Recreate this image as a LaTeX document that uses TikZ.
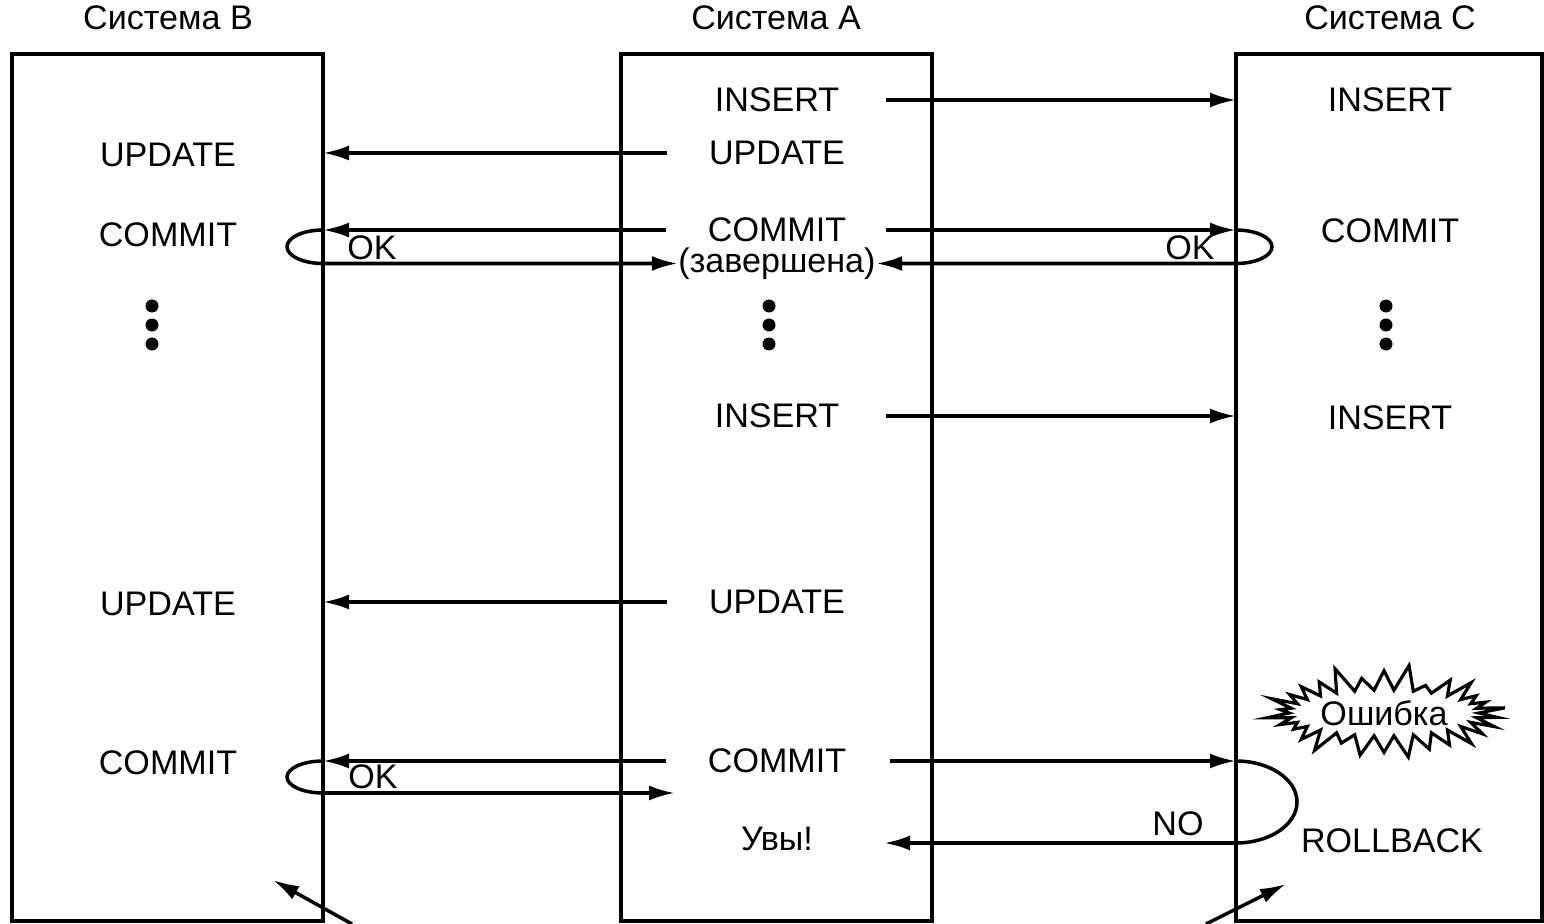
\documentclass[tikz,border=0pt]{standalone}
\usepackage{fontspec}
\setmainfont{Liberation Sans}
\usetikzlibrary{arrows.meta, shapes.symbols}

\begin{document}
\begin{tikzpicture}[
    >={Latex[length=2.6mm, width=1.5mm]},
    font=\fontsize{9.7}{11}\selectfont,
    sysbox/.style={draw, line width=1pt, inner sep=0pt, outer sep=0pt},
    op/.style={inner sep=0pt},
    msg/.style={draw, line width=1pt, ->},
    dot/.style={circle, fill, inner sep=0pt, minimum size=1.3mm},
  ]
  \useasboundingbox (0,0) rectangle (15.44,-9.24);

  % ----- the three systems -----
  \node[sysbox, minimum width=3.11cm, minimum height=8.67cm] (sysB) at (1.675,-4.875) {};
  \node[sysbox, minimum width=3.11cm, minimum height=8.67cm] (sysA) at (7.765,-4.875) {};
  \node[sysbox, minimum width=3.06cm, minimum height=8.67cm] (sysC) at (13.89,-4.875) {};
  \node (hdB) at (1.68,-0.18) {Система B};
  \node (hdA) at (7.76,-0.18) {Система A};
  \node (hdC) at (13.90,-0.18) {Система C};

  % ----- operations in system A -----
  \node[op] (insA1) at (7.77,-1.00) {INSERT};
  \node[op] (updA1) at (7.77,-1.53) {UPDATE};
  \node[op] (cmA1)  at (7.77,-2.30) {COMMIT};
  \node[op] (zav)   at (7.77,-2.635) {(завершена)};
  \node[op] (insA2) at (7.77,-4.16) {INSERT};
  \node[op] (updA2) at (7.77,-6.02) {UPDATE};
  \node[op] (cmA2)  at (7.77,-7.61) {COMMIT};
  \node[op] (uvy)   at (7.77,-8.39) {Увы!};

  % ----- operations in system B -----
  \node[op] (updB1) at (1.68,-1.55) {UPDATE};
  \node[op] (cmB1)  at (1.68,-2.35) {COMMIT};
  \node[op] (updB2) at (1.68,-6.04) {UPDATE};
  \node[op] (cmB2)  at (1.68,-7.63) {COMMIT};

  % ----- operations in system C -----
  \node[op] (insC1) at (13.90,-1.00) {INSERT};
  \node[op] (cmC1)  at (13.90,-2.31) {COMMIT};
  \node[op] (insC2) at (13.90,-4.18) {INSERT};
  \node[op] (rb)    at (13.92,-8.41) {ROLLBACK};
  \node[starburst, draw, line width=0.9pt, starburst points=30,
        starburst point height=0.27cm, minimum width=1.35cm, minimum height=0.45cm,
        inner sep=1pt] (err) at (13.84,-7.13) {Ошибка};

  % ----- dots -----
  \foreach \x/\n in {1.52/B, 7.69/A, 13.86/C}
    \foreach \y [count=\k] in {3.06,3.25,3.44}
      \node[dot] (dot\n\k) at (\x,-\y) {};

  % ----- replies -----
  \node[op] (ok1) at (3.72,-2.48) {OK};
  \node[op] (ok2) at (11.90,-2.48) {OK};
  \node[op] (ok3) at (3.73,-7.77) {OK};
  \node[op] (no)  at (11.78,-8.24) {NO};
  \coordinate (okEnd) at (6.75,-7.93);
  \coordinate (noEnd) at (8.84,-8.43);

  % ----- messages -----
  \draw[msg] ([xshift=0.46cm]insA1.east) -- (insA1 -| sysC.west);
  \draw[msg] ([xshift=-0.41cm]updA1.west) -- (updA1 -| sysB.east);
  \draw[msg] ([xshift=-0.41cm]cmA1.west) -- (cmA1 -| sysB.east);
  \draw[msg] ([xshift=0.39cm]cmA1.east) -- (cmA1 -| sysC.west);
  \draw[msg] (cmA1 -| sysB.east) arc[start angle=90, end angle=270, x radius=0.36, y radius=0.1675] -- (zav.west);
  \draw[msg] (cmA1 -| sysC.west) arc[start angle=90, end angle=-90, x radius=0.36, y radius=0.1675] -- (zav.east);
  \draw[msg] ([xshift=0.46cm]insA2.east) -- (insA2 -| sysC.west);
  \draw[msg] ([xshift=-0.41cm]updA2.west) -- (updA2 -| sysB.east);
  \draw[msg] ([xshift=-0.41cm]cmA2.west) -- (cmA2 -| sysB.east);
  \draw[msg] ([xshift=0.43cm]cmA2.east) -- (cmA2 -| sysC.west);
  \draw[msg] (cmA2 -| sysB.east) arc[start angle=90, end angle=270, x radius=0.36, y radius=0.16] -- (okEnd);
  \draw[msg] (cmA2 -| sysC.west) arc[start angle=90, end angle=-90, x radius=0.61, y radius=0.41] -- (noEnd);

  % ----- pointers at the bottom -----
  \coordinate (ptrB) at (3.52,-9.24);
  \coordinate (ptrC) at (12.06,-9.24);
  \draw[msg] (ptrB) -- (2.73,-8.80);
  \draw[msg] (ptrC) -- (12.86,-8.84);

\end{tikzpicture}
\end{document}
